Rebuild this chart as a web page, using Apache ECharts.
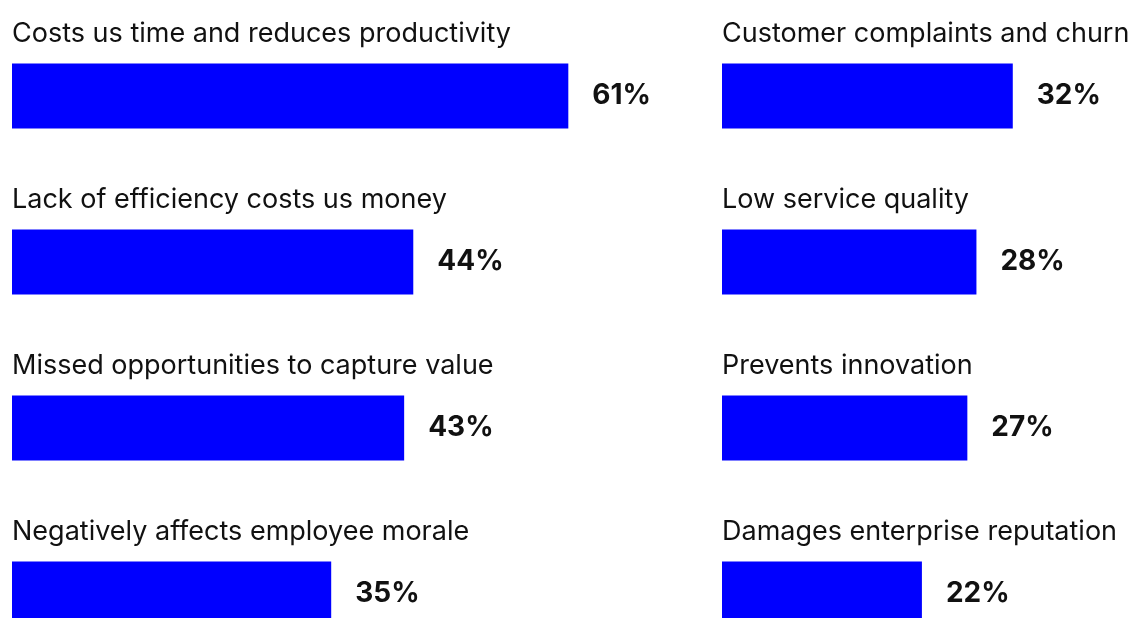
<!DOCTYPE html>
<html>
<head>
<meta charset="utf-8">
<style>
  html, body { margin: 0; padding: 0; background: #ffffff; overflow: hidden; }
  #chart { width: 1140px; height: 700px; }
</style>
<script src="https://cdn.jsdelivr.net/npm/echarts@6/dist/echarts.min.js"></script>
</head>
<body>
<div id="chart"></div>
<script>
// Left column: impacts on the business
const leftCategories = [
  'Costs us time and reduces productivity',
  'Lack of efficiency costs us money',
  'Missed opportunities to capture value',
  'Negatively affects employee morale'
];
const leftValues = [61, 44, 43, 35];

// Right column: impacts on customers and growth
const rightCategories = [
  'Customer complaints and churn',
  'Low service quality',
  'Prevents innovation',
  'Damages enterprise reputation'
];
const rightValues = [32, 28, 27, 22];

const BAR_COLOR = '#0000ff';
const TEXT_COLOR = '#111111';
const FONT = 'Inter, "Noto Sans", sans-serif';
const PX_PER_PCT = 9.12;

const chart = echarts.init(document.getElementById('chart'), null, { renderer: 'canvas' });

function categoryAxis(gridIndex, categories) {
  return {
    type: 'category',
    gridIndex: gridIndex,
    inverse: true,
    data: categories,
    show: false
  };
}

function valueAxis(gridIndex, max) {
  return {
    type: 'value',
    gridIndex: gridIndex,
    min: 0,
    max: max,
    show: false
  };
}

// Visible bar with its percentage to the right
function barSeries(index, values) {
  return {
    type: 'bar',
    xAxisIndex: index,
    yAxisIndex: index,
    data: values,
    barWidth: 65,
    itemStyle: { color: BAR_COLOR },
    silent: true,
    z: 2,
    label: {
      show: true,
      position: 'right',
      distance: 24,
      formatter: '{c}%',
      color: TEXT_COLOR,
      fontFamily: FONT,
      fontSize: 28,
      fontWeight: 700
    }
  };
}

// Transparent twin bar that carries the category caption above each bar
function captionSeries(index, values) {
  return {
    type: 'bar',
    xAxisIndex: index,
    yAxisIndex: index,
    data: values,
    barWidth: 65,
    barGap: '-100%',
    itemStyle: { color: 'rgba(0,0,0,0)' },
    silent: true,
    z: 3,
    label: {
      show: true,
      position: [0, -30],
      align: 'left',
      verticalAlign: 'middle',
      formatter: '{b}',
      color: TEXT_COLOR,
      fontFamily: FONT,
      fontSize: 27,
      fontWeight: 400
    }
  };
}

const leftMax = 70;
const rightMax = 46;

chart.setOption({
  animation: false,
  backgroundColor: '#ffffff',
  grid: [
    { left: 12, top: 13, width: leftMax * PX_PER_PCT, height: 664, containLabel: false },
    { left: 722, top: 13, width: rightMax * PX_PER_PCT, height: 664, containLabel: false }
  ],
  xAxis: [valueAxis(0, leftMax), valueAxis(1, rightMax)],
  yAxis: [categoryAxis(0, leftCategories), categoryAxis(1, rightCategories)],
  series: [
    barSeries(0, leftValues), captionSeries(0, leftValues),
    barSeries(1, rightValues), captionSeries(1, rightValues)
  ]
});
</script>
</body>
</html>
